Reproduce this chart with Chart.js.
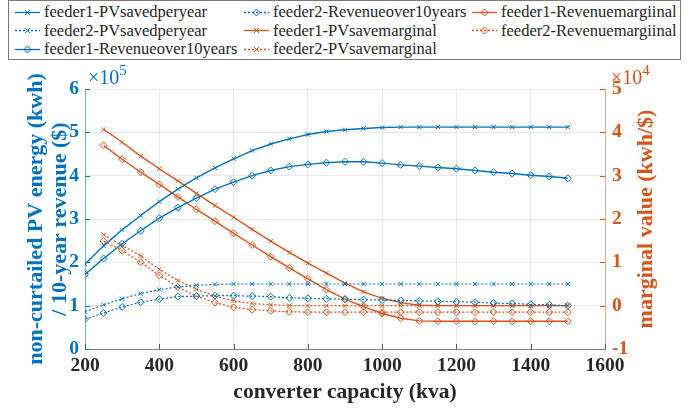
<!DOCTYPE html>
<html>
<head>
<meta charset="utf-8">
<script src="https://cdn.jsdelivr.net/npm/chart.js@4.4.1/dist/chart.umd.min.js"></script>
<style>
  body { margin: 0; background: #fff; }
  #wrap { position: relative; width: 691px; height: 408px; }
  #legend {
    position: absolute; left: 8px; top: 0px; width: 671px; height: 58px;
    border: 1px solid #7a7a7a; background: #fff;
    font-family: "Liberation Serif", "Times New Roman", serif; font-size: 16.5px; color: #262626;
  }
  .item { position: absolute; display: flex; align-items: center; white-space: nowrap; height: 18px; line-height: 18px; }
  .item svg { margin-right: 4px; }
</style>
</head>
<body>
<div id="wrap">
  <canvas id="chart" width="691" height="408"></canvas>
  <div id="legend"></div>
</div>
<script>
// converter capacity (kva)
const capacity = [200, 250, 300, 350, 400, 450, 500, 550, 600, 650, 700, 750, 800, 850, 900,
  950, 1000, 1050, 1100, 1150, 1200, 1250, 1300, 1350, 1400, 1450, 1500];
const capacityMarginal = capacity.slice(1);

// left axis, x 1e5
const feeder1PVsaved = [1.96, 2.38, 2.75, 3.08, 3.40, 3.69, 3.95, 4.18, 4.39, 4.58, 4.73, 4.85, 4.95, 5.02,
  5.06, 5.09, 5.11, 5.12, 5.12, 5.12, 5.12, 5.12, 5.12, 5.12, 5.12, 5.12, 5.12];
const feeder2PVsaved = [0.86, 1.02, 1.16, 1.28, 1.37, 1.43, 1.47, 1.49, 1.50, 1.50, 1.50, 1.50, 1.50, 1.50,
  1.50, 1.50, 1.50, 1.50, 1.50, 1.50, 1.50, 1.50, 1.50, 1.50, 1.50, 1.50, 1.50];
const feeder1Revenue = [1.72, 2.09, 2.43, 2.73, 3.02, 3.26, 3.48, 3.69, 3.85, 4.00, 4.12, 4.21, 4.26, 4.30,
  4.32, 4.32, 4.29, 4.25, 4.22, 4.19, 4.16, 4.12, 4.08, 4.05, 4.01, 3.98, 3.94];
const feeder2Revenue = [0.69, 0.83, 0.97, 1.08, 1.15, 1.21, 1.22, 1.23, 1.23, 1.22, 1.21, 1.18, 1.17, 1.16,
  1.15, 1.14, 1.13, 1.12, 1.11, 1.10, 1.09, 1.08, 1.06, 1.05, 1.03, 1.02, 1.00];

// right axis, x 1e4
const feeder1PVmarginal = [4.07, 3.77, 3.45, 3.16, 2.88, 2.59, 2.31, 2.04, 1.76, 1.49, 1.23, 0.98, 0.75,
  0.52, 0.32, 0.17, 0.07, 0.01, 0, 0, 0, 0, 0, 0, 0, 0];
const feeder2PVmarginal = [1.64, 1.39, 1.15, 0.84, 0.58, 0.38, 0.22, 0.11, 0.05, 0.02, 0, 0, 0,
  0, 0, 0, 0, 0, 0, 0, 0, 0, 0, 0, 0, 0];
const feeder1RevMarginal = [3.70, 3.38, 3.08, 2.80, 2.51, 2.22, 1.95, 1.67, 1.40, 1.13, 0.87, 0.62, 0.37,
  0.15, -0.02, -0.18, -0.29, -0.35, -0.36, -0.36, -0.36, -0.36, -0.36, -0.36, -0.36, -0.36];
const feeder2RevMarginal = [1.49, 1.27, 1.00, 0.70, 0.43, 0.22, 0.07, -0.04, -0.09, -0.12, -0.14, -0.15, -0.15,
  -0.15, -0.15, -0.15, -0.15, -0.15, -0.15, -0.15, -0.15, -0.15, -0.15, -0.15, -0.15, -0.15];

const xTicks = [200, 400, 600, 800, 1000, 1200, 1400, 1600];
const leftTitle = ["non-curtailed PV energy (kwh)", "/ 10-year revenue ($)"];
const rightTitle = "marginal value (kwh/$)";

const blue = "#0072BD";
const orange = "#D95319";
const serif = '"Liberation Serif", "Times New Roman", serif';

const pts = (xs, ys) => xs.map((x, i) => ({ x: x, y: ys[i] }));

function series(label, xs, ys, color, dotted, marker, axis) {
  return {
    label: label,
    data: pts(xs, ys),
    yAxisID: axis,
    borderColor: color,
    backgroundColor: "rgba(0,0,0,0)",
    borderWidth: dotted ? 1.2 : 1.4,
    borderDash: dotted ? [2, 2] : [],
    pointStyle: marker === "x" ? "crossRot" : "rectRot",
    pointRadius: marker === "x" ? 3 : 3.5,
    pointBorderColor: color,
    pointBackgroundColor: "rgba(0,0,0,0)",
    pointBorderWidth: 1,
    tension: 0,
    _dotted: dotted,
    _marker: marker,
  };
}

const datasets = [
  series("feeder1-PVsavedperyear", capacity, feeder1PVsaved, blue, false, "x", "y"),
  series("feeder2-PVsavedperyear", capacity, feeder2PVsaved, blue, true, "x", "y"),
  series("feeder1-Revenueover10years", capacity, feeder1Revenue, blue, false, "d", "y"),
  series("feeder2-Revenueover10years", capacity, feeder2Revenue, blue, true, "d", "y"),
  series("feeder1-PVsavemarginal", capacityMarginal, feeder1PVmarginal, orange, false, "x", "y1"),
  series("feeder2-PVsavemarginal", capacityMarginal, feeder2PVmarginal, orange, true, "x", "y1"),
  series("feeder1-Revenuemargiinal", capacityMarginal, feeder1RevMarginal, orange, false, "d", "y1"),
  series("feeder2-Revenuemargiinal", capacityMarginal, feeder2RevMarginal, orange, true, "d", "y1"),
];

// legend, column by column like the original figure
const legendCols = [6, 235, 463];
const legendRows = [2, 20.5, 39];
function sample(ds) {
  const dash = ds._dotted ? 'stroke-dasharray="2 2"' : "";
  const mk = ds._marker === "x"
    ? `<path d="M10 3 L15 8 M15 3 L10 8" stroke="${ds.borderColor}" stroke-width="1"/>`
    : `<path d="M12.5 2 L16 5.5 L12.5 9 L9 5.5 Z" fill="none" stroke="${ds.borderColor}" stroke-width="1"/>`;
  return `<svg width="25" height="11"><line x1="0" y1="5.5" x2="25" y2="5.5" stroke="${ds.borderColor}" stroke-width="1.3" ${dash}/>${mk}</svg>`;
}
const legendEl = document.getElementById("legend");
datasets.forEach((ds, k) => {
  const el = document.createElement("div");
  el.className = "item";
  el.style.left = legendCols[Math.floor(k / 3)] + "px";
  el.style.top = legendRows[k % 3] + "px";
  el.innerHTML = sample(ds) + "<span>" + ds.label + "</span>";
  legendEl.appendChild(el);
});

const extras = {
  id: "extras",
  afterDraw(chart) {
    const { ctx, chartArea, scales } = chart;
    const midY = (chartArea.top + chartArea.bottom) / 2;
    ctx.save();
    ctx.lineWidth = 1;
    // inward tick marks
    ctx.strokeStyle = blue;
    scales.y.ticks.forEach((t) => {
      const p = Math.round(scales.y.getPixelForValue(t.value)) + 0.5;
      ctx.beginPath(); ctx.moveTo(chartArea.left, p); ctx.lineTo(chartArea.left + 5, p); ctx.stroke();
    });
    ctx.strokeStyle = orange;
    scales.y1.ticks.forEach((t) => {
      const p = Math.round(scales.y1.getPixelForValue(t.value)) + 0.5;
      ctx.beginPath(); ctx.moveTo(chartArea.right, p); ctx.lineTo(chartArea.right - 5, p); ctx.stroke();
    });
    ctx.strokeStyle = "#555";
    scales.x.ticks.forEach((t) => {
      const p = Math.round(scales.x.getPixelForValue(t.value)) + 0.5;
      ctx.beginPath(); ctx.moveTo(p, chartArea.bottom); ctx.lineTo(p, chartArea.bottom - 5); ctx.stroke();
    });

    // exponent labels
    const expo = (x, y, pow, color) => {
      ctx.fillStyle = color;
      ctx.textAlign = "left";
      ctx.textBaseline = "alphabetic";
      ctx.font = "20px " + serif;
      ctx.fillText("\u00d710", x, y);
      const w = ctx.measureText("\u00d710").width;
      ctx.font = "15px " + serif;
      ctx.fillText(pow, x + w, y - 9);
    };
    expo(chartArea.left + 3, chartArea.top - 5, "5", blue);
    expo(chartArea.right + 6, chartArea.top - 5, "4", orange);

    // axis titles, both reading bottom to top, wider than the axis itself
    const vtitle = (lines, x, color) => {
      ctx.save();
      ctx.translate(x, midY);
      ctx.rotate(-Math.PI / 2);
      ctx.fillStyle = color;
      ctx.font = "bold 22px " + serif;
      ctx.textAlign = "center";
      ctx.textBaseline = "middle";
      lines.forEach((s, i) => ctx.fillText(s, 0, i * 24));
      ctx.restore();
    };
    vtitle(leftTitle, 36, blue);
    vtitle([rightTitle], 646, orange);
    ctx.restore();
  },
};

new Chart(document.getElementById("chart"), {
  type: "line",
  data: { datasets: datasets },
  options: {
    responsive: false,
    animation: false,
    devicePixelRatio: 1,
    layout: { padding: { top: 89, left: 0, right: 0, bottom: 0 } },
    plugins: { legend: { display: false }, tooltip: { enabled: false } },
    scales: {
      x: {
        type: "linear",
        min: 200,
        max: 1600,
        afterBuildTicks: (s) => { s.ticks = xTicks.map((v) => ({ value: v })); },
        afterFit: (s) => { s.height = 59; },
        grid: { color: "rgba(38,38,38,0.1)", drawTicks: false },
        border: { color: "rgba(38,38,38,0.55)" },
        ticks: {
          padding: 5,
          color: "#262626",
          font: { family: serif, size: 19.5, weight: "bold" },
          callback: (v) => String(v),
        },
        title: {
          display: true,
          text: "converter capacity (kva)",
          color: "#262626",
          font: { family: serif, size: 21.5, weight: "bold" },
          padding: { top: 0, bottom: 3 },
        },
      },
      y: {
        position: "left",
        min: 0,
        max: 6,
        afterFit: (s) => { s.width = 85; },
        grid: { color: "rgba(38,38,38,0.1)", drawTicks: false },
        border: { color: "rgba(0,114,189,0.5)" },
        ticks: {
          stepSize: 1,
          padding: 6,
          color: blue,
          font: { family: serif, size: 19.5, weight: "bold" },
          callback: (v) => String(v),
        },
      },
      y1: {
        position: "right",
        min: -1,
        max: 5,
        afterFit: (s) => { s.width = 86; },
        grid: { drawOnChartArea: false, drawTicks: false },
        border: { color: "rgba(217,83,25,0.45)" },
        ticks: {
          stepSize: 1,
          padding: 7,
          color: orange,
          font: { family: serif, size: 19.5, weight: "bold" },
          callback: (v) => String(v),
        },
      },
    },
  },
  plugins: [extras],
});
</script>
</body>
</html>
